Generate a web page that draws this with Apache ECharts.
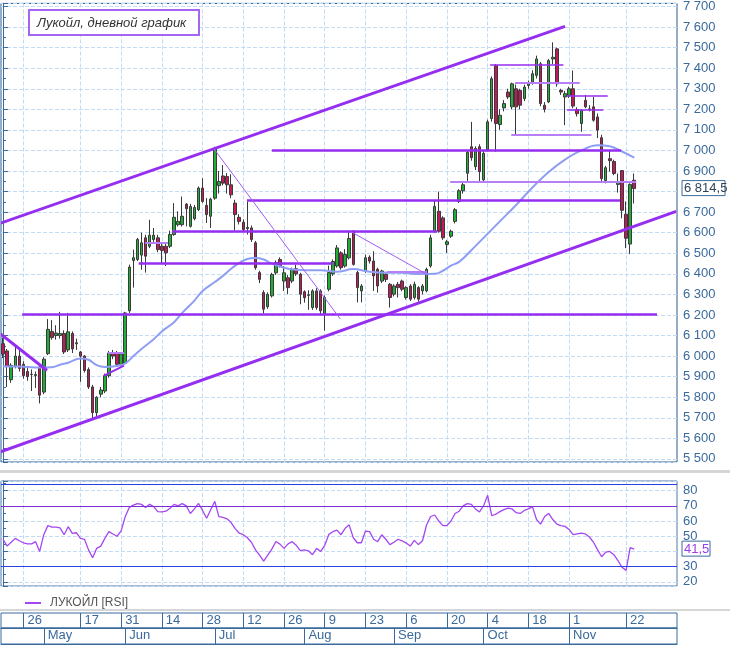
<!DOCTYPE html>
<html>
<head>
<meta charset="utf-8">
<script src="https://cdn.jsdelivr.net/npm/echarts@6/dist/echarts.min.js"></script>
<style>
html, body { margin: 0; padding: 0; background: #fff; }
#chart { width: 730px; height: 646px; }
</style>
</head>
<body>
<div id="chart"></div>
<script>
// daily candles from 19 Apr 2021, [open, close, low, high]
var candles = [
  [6060,6010,5990,6090],[6025,5950,5850,6035],[5885,5955,5870,5965],[5950,6000,5940,6045],[6000,5940,5925,6040],
  [5960,5905,5890,5975],[5925,5900,5880,5950],[5912,5910,5830,5935],[5905,5910,5845,5925],[5940,5810,5770,5955],
  [5825,5985,5815,5995],[6012,6130,6005,6180],[6120,6090,6080,6175],[6100,6112,6080,6150],[6100,6110,6085,6215],
  [6110,6020,6010,6125],[6030,6118,6020,6210],[6110,6035,6015,6120],[6060,6065,6030,6085],[6020,6000,5875,6025],
  [6000,5930,5920,6005],[5935,5850,5840,5945],[5850,5725,5690,5860],[5725,5800,5700,5805],[5815,5835,5800,5850],
  [5830,5905,5820,5915],[5905,6015,5895,6025],[6015,6000,5985,6030],[6015,5960,5950,6025],[5960,6010,5950,6020],
  [5965,6210,5960,6215],[6220,6433,6210,6445],[6465,6478,6333,6518],[6470,6567,6462,6575],[6491,6551,6420,6600],
  [6575,6486,6406,6590],[6534,6588,6525,6663],[6567,6588,6555,6623],[6575,6518,6505,6590],[6534,6514,6454,6545],
  [6534,6502,6438,6545],[6534,6591,6525,6610],[6591,6675,6585,6744],[6639,6655,6631,6704],[6639,6680,6630,6776],
  [6739,6717,6631,6744],[6631,6728,6625,6740],[6668,6723,6660,6735],[6712,6817,6705,6825],[6817,6752,6745,6865],
  [6733,6688,6647,6768],[6680,6763,6623,6770],[6768,7010,6760,7018],[6829,6849,6790,6900],[6876,6841,6830,6929],
  [6873,6833,6790,6890],[6833,6784,6768,6884],[6744,6688,6610,6760],[6675,6655,6640,6690],[6651,6615,6605,6665],
  [6620,6626,6591,6752],[6623,6567,6555,6635],[6551,6430,6420,6560],[6406,6373,6355,6415],[6309,6228,6207,6320],
  [6240,6300,6230,6310],[6293,6397,6285,6405],[6405,6455,6395,6465],[6470,6440,6430,6480],[6365,6405,6317,6438],
  [6381,6333,6301,6395],[6365,6422,6355,6430],[6425,6400,6390,6445],[6398,6301,6252,6405],[6313,6284,6260,6320],
  [6295,6298,6225,6320],[6236,6317,6225,6325],[6317,6236,6225,6330],[6317,6220,6205,6325],[6204,6285,6124,6295],
  [6325,6406,6315,6440],[6400,6460,6390,6470],[6438,6526,6430,6540],[6502,6430,6420,6510],[6438,6494,6430,6520],
  [6478,6572,6470,6610],[6607,6446,6440,6612],[6406,6333,6261,6415],[6317,6341,6261,6350],[6414,6478,6405,6494],
  [6481,6462,6450,6490],[6462,6390,6317,6510],[6422,6341,6309,6430],[6365,6414,6355,6420],[6398,6373,6360,6410],
  [6349,6285,6236,6355],[6301,6341,6290,6350],[6349,6333,6285,6360],[6365,6325,6315,6372],[6285,6333,6275,6340],
  [6341,6277,6268,6350],[6285,6349,6275,6362],[6333,6277,6265,6340],[6317,6341,6300,6350],[6317,6422,6310,6430],
  [6438,6575,6430,6590],[6607,6728,6600,6760],[6704,6607,6600,6800],[6672,6575,6565,6680],[6543,6556,6502,6565],
  [6583,6607,6575,6615],[6655,6712,6645,6720],[6752,6804,6745,6812],[6804,6833,6790,6845],[6889,6991,6850,7000],
  [7018,6965,6950,7139],[6921,7010,6905,7020],[7018,6897,6849,7030],[6857,6986,6845,7000],[7002,7139,6995,7150],
  [7155,7349,7140,7360],[7413,7131,6994,7420],[7126,7171,7100,7200],[7207,7228,7190,7245],[7284,7260,7250,7300],
  [7212,7324,7200,7330],[7300,7212,7074,7320],[7292,7220,7200,7300],[7252,7308,7240,7320],[7316,7324,7300,7340],
  [7332,7373,7320,7390],[7365,7445,7350,7461],[7421,7228,7215,7430],[7220,7200,7185,7235],[7236,7437,7230,7445],
  [7445,7453,7420,7526],[7494,7324,7310,7500],[7292,7284,7270,7300],[7260,7276,7123,7290],[7268,7300,7255,7310],
  [7300,7216,7205,7389],[7199,7179,7165,7210],[7131,7195,7091,7200],[7244,7212,7205,7270],[7200,7202,7190,7220],
  [7212,7147,7140,7260],[7163,7099,7060,7180],[7062,6863,6849,7076],[6854,6916,6840,6925],[6960,6950,6897,6999],
  [6946,6888,6880,6955],[6835,6844,6795,6888],[6902,6709,6670,6905],[6690,6573,6525,6752],[6545,6835,6496,6840],
  [6855,6814.5,6742,6888]
];

// RSI, one value per candle
var rsi = [
  48,43.5,46,48.6,47,45.7,45,45,46.4,40,
  51,57,56,56,55.5,51,56.3,51.9,52.3,48.6,
  48,41,35.8,42,43.5,48.6,53,51.5,50,53.5,
  62.9,69,70.5,71.5,71,69,71,69.5,66.2,66,
  66.5,68.5,71,70,71.5,70,65,68,71.6,67,
  61.8,67.5,73,62.9,62.4,61.5,59,55,52,51,
  49,46,41,37.5,33.6,37.6,41.5,46.5,44.8,42,
  45,46.4,44,40.5,41,40.4,37.8,42,40,44,
  51.2,53,54,51,55.2,57.5,49,45.7,45.7,53.4,
  53,48,46.4,51,48,44.5,46,48,47,45.5,
  43.5,47.3,44.5,47,57.4,63,64,60,57,57,
  60,65,66.5,70,71.5,71,68,66,70,77,
  63.5,64.5,66.2,67.5,68.5,68,65.5,65,67,68,
  69.5,61,58,63,65,61,58,57,56.5,54.5,
  51,51.5,52,51.5,49.5,46,41,36.5,39.5,40,
  37.8,34,29.5,27.5,42.5,41.5
];

// moving average: [candle index, value]
var ma = [
  [0,5949],[4,5949],[8,5945],[12,5946],[14,5958],[16,5968],[19,5988],[21,5982],[23,5956],[25,5947],
  [28,5952],[30,5964],[32,6000],[34,6035],[37,6082],[39,6120],[42,6165],[44,6210],[47,6270],[49,6317],
  [52,6360],[54,6390],[57,6440],[60,6472],[62,6477],[64,6470],[66,6450],[70,6425],[74,6418],[78,6418],
  [82,6410],[86,6423],[90,6410],[94,6405],[98,6405],[102,6399],[106,6400],[108,6415],[110,6440],[112,6458],
  [115,6515],[118,6575],[122,6655],[126,6735],[130,6820],[134,6895],[138,6955],[142,7000],[146,7025],
  [149,7020],[152,6995],[155,6965]
];

// drawn lines: [x1, price1, x2, price2] in candle index units
var channelLines = [
  [-0.7, 6646, 138, 7603],
  [-0.7, 5534, 165.3, 6704],
  [-0.7, 6109, 10.8, 5930]
];
// horizontal levels: [x1, x2, price]
var strongLevels = [
  [4.7, 160.6, 6205],
  [33.3, 81, 6452],
  [41.5, 106.6, 6607],
  [59.9, 151.5, 6757],
  [66, 151.8, 7002]
];
var thinLevels = [
  [119.6, 137.6, 7418],
  [138.4, 148.5, 7265],
  [138.5, 147.4, 7200]
];
var lightLevels = [
  [109.8, 155.5, 6850],
  [124.8, 144.5, 7075],
  [125.7, 141.6, 7328],
  [34.9, 40.5, 6550],
  [94.3, 104.1, 6410],
  [25.8, 29.7, 6018]
];
var thinTrends = [
  [51.8, 7008, 82.8, 6181],
  [85.7, 6602, 104.4, 6394]
];
var shortTrends = [
  [24.8, 5905, 29.7, 5954]
];

// date rows
var dayTicks = [5, 19, 29, 39, 49, 59, 69, 79, 89, 99, 109, 119, 129, 139, 153];
var dayLabels = ['26', '17', '31', '14', '28', '12', '26', '9', '23', '6', '20', '4', '18', '1', '22'];
var monthTicks = [10, 30, 52, 74, 96, 118, 139];
var monthLabels = ['May', 'Jun', 'Jul', 'Aug', 'Sep', 'Oct', 'Nov'];

var rsiLevels = [30, 70, 84.2];

var axisBlue = '#3a6a9c';
var gridDash = '#c3dcf4';
var purple = '#962ef2';
var lightPurple = '#b77ff6';
var font = '"Liberation Sans", Arial, sans-serif';
var nbCats = 166;

function thousands(v) {
  return String(Math.round(v)).replace(/\B(?=(\d{3})+(?!\d))/g, ' ');
}
function diag(list, style) {
  return list.map(function (s) {
    return { coords: [[s[0], s[1]], [s[2], s[3]]], lineStyle: style };
  });
}
function flat(list, style) {
  return list.map(function (s) {
    return { coords: [[s[0], s[2]], [s[1], s[2]]], lineStyle: style };
  });
}

var chart = echarts.init(document.getElementById('chart'));

function plotX(grid, show) {
  return {
    type: 'value', gridIndex: grid, min: -0.5, max: nbCats - 0.5,
    axisLine: { show: false },
    axisTick: { show: false, customValues: dayTicks },
    axisLabel: { show: false, customValues: dayTicks },
    splitLine: { show: show, lineStyle: { type: 'dashed', color: gridDash } }
  };
}
function rowX(grid, ticks, labels) {
  return {
    type: 'value', gridIndex: grid, min: -0.5, max: nbCats - 0.5, position: 'top',
    axisLine: { show: true, lineStyle: { color: axisBlue } },
    axisTick: { show: false, customValues: ticks },
    axisLabel: {
      customValues: ticks, inside: true, margin: 1, align: 'left', padding: [0, 0, 0, 4],
      color: axisBlue, fontSize: 13, fontFamily: font,
      formatter: function (v) { var k = ticks.indexOf(Math.round(v)); return k < 0 ? '' : labels[k]; }
    },
    splitLine: { show: true, lineStyle: { color: axisBlue, width: 1 } }
  };
}
function sideY(grid, min, max, split, fmt) {
  return {
    type: 'value', gridIndex: grid, position: 'right', min: min, max: max, splitNumber: split,
    axisLine: { show: true, lineStyle: { color: axisBlue } },
    axisTick: { show: true, length: 5, lineStyle: { color: axisBlue } },
    minorTick: { show: true, splitNumber: 2, length: 3, lineStyle: { color: axisBlue } },
    axisLabel: {
      color: axisBlue, fontSize: 13, fontFamily: font, margin: 6,
      showMinLabel: false, showMaxLabel: false, formatter: fmt
    },
    splitLine: { show: true, lineStyle: { type: 'dashed', color: gridDash } }
  };
}

chart.setOption({
  animation: false,
  backgroundColor: '#fff',
  grid: [
    { left: 1, top: 1, width: 676, height: 461, show: true, borderColor: '#2b5a8c', borderWidth: 1 },
    { left: 1, top: 481, width: 676, height: 105, show: true, borderColor: '#4a78a8', borderWidth: 1 },
    { left: 1, top: 613, width: 676, height: 15, show: true, borderColor: axisBlue, borderWidth: 1 },
    { left: 1, top: 628, width: 676, height: 16, show: true, borderColor: axisBlue, borderWidth: 1 }
  ],
  xAxis: [
    plotX(0, true),
    plotX(1, true),
    rowX(2, dayTicks, dayLabels),
    rowX(3, monthTicks, monthLabels)
  ],
  yAxis: [
    sideY(0, 5485, 7715, 22, thousands),
    sideY(1, 17.2, 86.4, 7, function (v) { return String(Math.round(v)); }),
    { type: 'value', gridIndex: 2, show: false, min: 0, max: 1 },
    { type: 'value', gridIndex: 3, show: false, min: 0, max: 1 }
  ],
  legend: {
    left: 20, top: 592, itemWidth: 16, itemHeight: 2,
    textStyle: { color: '#555', fontSize: 12, fontFamily: font, padding: [0, 0, 0, 4] },
    data: [{ name: 'ЛУКОЙЛ [RSI]', icon: 'rect' }]
  },
  series: [
    {
      type: 'candlestick', name: 'ЛУКОЙЛ', xAxisIndex: 0, yAxisIndex: 0, barWidth: 3, z: 2,
      data: candles.map(function (c, i) { return [i, c[0], c[1], c[2], c[3]]; }),
      encode: { x: 0, y: [1, 2, 3, 4] },
      itemStyle: { color: '#20ae35', color0: '#c4185c', borderColor: '#3a3a3a', borderColor0: '#3a3a3a', borderWidth: 1 }
    },
    {
      type: 'line', name: 'MA', xAxisIndex: 0, yAxisIndex: 0, data: ma, smooth: 0.4, symbol: 'none', z: 3,
      lineStyle: { color: '#8e9ef4', width: 2 }
    },
    {
      type: 'lines', coordinateSystem: 'cartesian2d', xAxisIndex: 0, yAxisIndex: 0, z: 4, silent: true,
      data: [].concat(
        diag(channelLines, { color: purple, width: 3, opacity: 1 }),
        flat(strongLevels, { color: purple, width: 2.5, opacity: 1 }),
        flat(thinLevels, { color: purple, width: 1.5, opacity: 1 }),
        flat(lightLevels, { color: lightPurple, width: 2, opacity: 1 }),
        diag(thinTrends, { color: '#a45cf5', width: 1, opacity: 1 }),
        diag(shortTrends, { color: purple, width: 2, opacity: 1 })
      )
    },
    {
      type: 'line', name: 'ЛУКОЙЛ [RSI]', xAxisIndex: 1, yAxisIndex: 1, symbol: 'none', z: 3,
      data: rsi.map(function (v, i) { return [i, v]; }),
      lineStyle: { color: '#a447f2', width: 1.3 },
      itemStyle: { color: '#a447f2' },
      markLine: {
        silent: true, symbol: 'none', label: { show: false }, animation: false,
        data: [
          { yAxis: rsiLevels[0], lineStyle: { color: '#2b3fe6', width: 1.2, type: 'solid' } },
          { yAxis: rsiLevels[1], lineStyle: { color: '#7b2fd6', width: 1.2, type: 'solid' } },
          { yAxis: rsiLevels[2], lineStyle: { color: '#2b3fe6', width: 1.2, type: 'solid' } }
        ]
      }
    }
  ]
});

// value tags on the right axes, placed through the axis scales
var lastClose = candles[candles.length - 1][1];
var lastRsi = rsi[rsi.length - 1];
var py = chart.convertToPixel({ xAxisIndex: 0, yAxisIndex: 0 }, [0, lastClose])[1];
var ry = chart.convertToPixel({ xAxisIndex: 1, yAxisIndex: 1 }, [0, lastRsi])[1];
var closeText = thousands(Math.floor(lastClose)) + ',' + String(lastClose).split('.')[1];
var rsiText = String(lastRsi).replace('.', ',');

chart.setOption({
  graphic: [
    { type: 'rect', id: 'sep1', z: 50, shape: { x: 0, y: 470, width: 730, height: 3 }, style: { fill: '#d6d6d6' }, silent: true },
    { type: 'rect', id: 'sep2', z: 50, shape: { x: 0, y: 609, width: 730, height: 2 }, style: { fill: '#d6d6d6' }, silent: true },
    {
      type: 'group', id: 'title', x: 29, y: 10, z: 100,
      children: [
        { type: 'rect', z: 100, shape: { x: 0, y: 0, width: 170, height: 25 }, style: { fill: '#fff', stroke: '#a565f3', lineWidth: 2 } },
        { type: 'text', z: 101, x: 8, y: 13, style: { text: 'Лукойл, дневной график', font: 'italic 13px "Liberation Sans"', fill: '#333', verticalAlign: 'middle' } }
      ]
    },
    {
      type: 'group', id: 'closeTag', x: 682, y: py, z: 100,
      children: [
        { type: 'rect', z: 100, shape: { x: 0, y: -8, width: 43, height: 15 }, style: { fill: '#fff', stroke: axisBlue, lineWidth: 1 } },
        { type: 'text', z: 101, x: 2, y: 0, style: { text: closeText, font: '13px ' + font, fill: '#2f4257', verticalAlign: 'middle' } }
      ]
    },
    {
      type: 'group', id: 'rsiTag', x: 682, y: ry, z: 100,
      children: [
        { type: 'rect', z: 100, shape: { x: 0, y: -8, width: 28, height: 15 }, style: { fill: '#fff', stroke: axisBlue, lineWidth: 1 } },
        { type: 'text', z: 101, x: 2, y: 0, style: { text: rsiText, font: '13px ' + font, fill: '#9b3cf0', verticalAlign: 'middle' } }
      ]
    }
  ]
});
</script>
</body>
</html>
